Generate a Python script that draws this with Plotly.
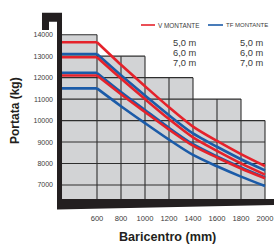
import plotly.graph_objects as go

# ---- data ----
dist = [600, 800, 1000, 1200, 1400, 1600, 1800, 2000]
flat_x = [300, 600]
v_50 = [13650, 12600, 11600, 10620, 9720, 9050, 8440, 7885]
v_60 = [12950, 11955, 11000, 10070, 9220, 8590, 8005, 7480]
v_70 = [12100, 11230, 10400, 9580, 8830, 8280, 7770, 7310]
tf_50 = [13100, 12110, 11170, 10250, 9400, 8780, 8200, 7680]
tf_60 = [12220, 11330, 10490, 9660, 8900, 8330, 7820, 7350]
tf_70 = [11500, 10670, 9880, 9110, 8400, 7870, 7390, 6950]

step_x = [300, 600, 1000, 1400, 1800, 2000]
step_top = [14000, 13000, 12000, 11000, 10000]
grid_x = [600, 800, 1000, 1200, 1400, 1600, 1800, 2000]
grid_y = [7000, 8000, 9000, 10000, 11000, 12000, 13000, 14000]
gray_bottom = 6350

x_ticks = [600, 800, 1000, 1200, 1400, 1600, 1800, 2000]
y_ticks = [7000, 8000, 9000, 10000, 11000, 12000, 13000, 14000]
heights = ["5,0 m", "6,0 m", "7,0 m"]

RED = "#e5222b"
BLUE = "#1b5ba8"
GRAY = "#d2d3d5"
GRID = "#2e2e2e"
TXT = "#3a3a3a"
FONT = "Liberation Sans, Arial, sans-serif"

W, H = 274, 244
ML, MR, MT, MB = 57, 2, 10, 32
PW, PH = W - ML - MR, H - MT - MB


def px(xp):
    return (xp - ML) / PW


def py(yp):
    return (H - MB - yp) / PH


fig = go.Figure()

series = [
    (tf_50, BLUE), (tf_60, BLUE), (tf_70, BLUE),
    (v_50, RED), (v_60, RED), (v_70, RED),
]
for vals, col in series:
    fig.add_trace(go.Scatter(x=flat_x, y=[vals[0], vals[0]], mode="lines",
                             line=dict(color=col, width=2.6), showlegend=False,
                             hoverinfo="skip"))
    fig.add_trace(go.Scatter(x=dist, y=vals, mode="lines",
                             line=dict(color=col, width=2.6, shape="spline", smoothing=0.8),
                             showlegend=False))

shapes = []
# gray staircase
for i, top in enumerate(step_top):
    shapes.append(dict(type="rect", xref="x", yref="y", x0=step_x[i], x1=step_x[i + 1],
                       y0=gray_bottom, y1=top, fillcolor=GRAY, line=dict(width=0),
                       layer="below"))


def top_at(xv):
    best = gray_bottom
    for i, top in enumerate(step_top):
        if step_x[i] <= xv <= step_x[i + 1]:
            best = max(best, top)
    return best


def right_at(yv):
    r = step_x[0]
    for i, top in enumerate(step_top):
        if top >= yv:
            r = step_x[i + 1]
    return r


for gx in grid_x:
    shapes.append(dict(type="line", xref="x", yref="y", x0=gx, x1=gx, y0=gray_bottom,
                       y1=top_at(gx), line=dict(color=GRID, width=1.1), layer="below"))
for gy in grid_y:
    shapes.append(dict(type="line", xref="x", yref="y", x0=step_x[0], x1=right_at(gy),
                       y0=gy, y1=gy, line=dict(color=GRID, width=1.1), layer="below"))

# black mast with hook (decorative frame)
mast = [(42, 12.7), (62, 12.7), (62, 205), (57, 205), (57, 21.7), (49, 21.7), (49, 30), (42, 30)]
path = "M " + " L ".join(f"{px(a):.4f},{py(b):.4f}" for a, b in mast) + " Z"
shapes.append(dict(type="path", xref="paper", yref="paper", path=path,
                   fillcolor="#231f20", line=dict(width=0), layer="above"))
base = [(57, 199), (274, 199), (274, 205), (57, 209.5)]
path = "M " + " L ".join(f"{px(a):.4f},{py(b):.4f}" for a, b in base) + " Z"
shapes.append(dict(type="path", xref="paper", yref="paper", path=path,
                   fillcolor="#231f20", line=dict(width=0), layer="above"))

# legend
shapes.append(dict(type="line", xref="paper", yref="paper", x0=px(141), x1=px(155),
                   y0=py(25), y1=py(25), line=dict(color=RED, width=1.6)))
shapes.append(dict(type="line", xref="paper", yref="paper", x0=px(208), x1=px(223),
                   y0=py(25), y1=py(25), line=dict(color=BLUE, width=1.6)))

annotations = [
    dict(text="V MONTANTE", x=px(156), y=py(25.3), xref="paper", yref="paper",
         xanchor="left", yanchor="middle", showarrow=False,
         font=dict(family=FONT, size=6.4, color=TXT)),
    dict(text="TF MONTANTE", x=px(223.5), y=py(25.3), xref="paper", yref="paper",
         xanchor="left", yanchor="middle", showarrow=False,
         font=dict(family=FONT, size=6.0, color=TXT)),
]
for i, h in enumerate(heights):
    yy = 43.3 + 9.7 * i
    for xr in (199, 265.5):
        annotations.append(dict(text=h, x=px(xr), y=py(yy), xref="paper", yref="paper",
                                xanchor="right", yanchor="middle", showarrow=False,
                                font=dict(family=FONT, size=9.3, color=TXT)))
annotations.append(dict(text="<b>Portata (kg)</b>", x=px(15), y=py(111), xref="paper",
                        yref="paper", xanchor="center", yanchor="middle", textangle=-90,
                        showarrow=False, font=dict(family=FONT, size=12, color="#231f20")))
annotations.append(dict(text="<b>Baricentro (mm)</b>", x=px(167), y=py(237.5), xref="paper",
                        yref="paper", xanchor="center", yanchor="middle",
                        showarrow=False, font=dict(family=FONT, size=12.6, color="#231f20")))

fig.update_layout(
    width=W, height=H, margin=dict(l=ML, r=MR, t=MT, b=MB, pad=0),
    paper_bgcolor="white", plot_bgcolor="white",
    shapes=shapes, annotations=annotations, showlegend=False,
    xaxis=dict(range=[266.67, 2058.33], tickvals=x_ticks, ticktext=[str(v) for v in x_ticks],
               showgrid=False, zeroline=False, showline=False, ticks="",
               tickfont=dict(family=FONT, size=7.6, color=TXT), fixedrange=True),
    yaxis=dict(range=[5742, 15150], tickvals=y_ticks, ticktext=[str(v) for v in y_ticks],
               showgrid=False, zeroline=False, showline=False, ticks="",
               ticklabelstandoff=3,
               tickfont=dict(family=FONT, size=7.0, color=TXT), fixedrange=True),
)

fig.write_html("out.html", config={"displayModeBar": False},
               post_script="document.body.style.margin='0';")
